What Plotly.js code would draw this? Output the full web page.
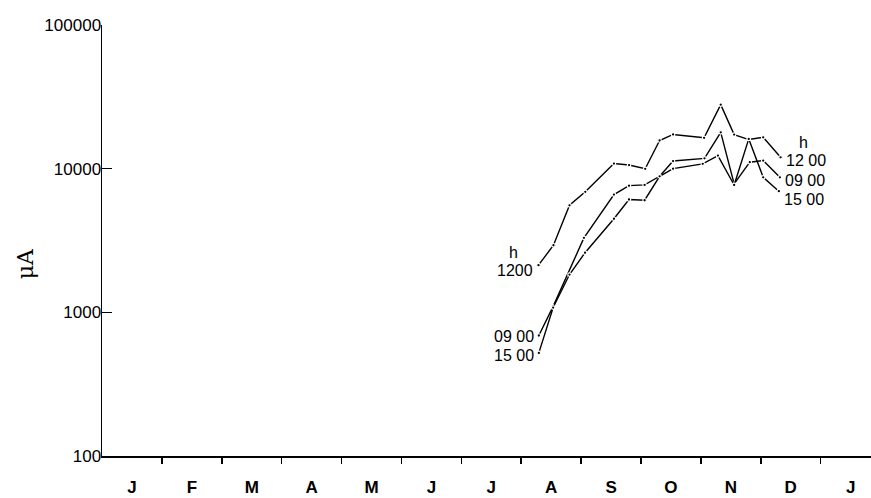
<!DOCTYPE html>
<html>
<head>
<meta charset="utf-8">
<script src="https://cdn.plot.ly/plotly-3.0.1.min.js"></script>
<style>html,body{margin:0;padding:0;background:#fff;}#chart{width:871px;height:498px;}</style>
</head>
<body>
<div id="chart"></div>
<script>
// Month labels (Jan .. Jan), x values are in months from 1 January
const monthLabels = ['J','F','M','A','M','J','J','A','S','O','N','D','J'];
const yTickValues = [100, 1000, 10000, 100000];
const yTickLabels = ['100', '1000', '10000', '100000'];

// 12h00 series
const x1200 = [7.288, 7.538, 7.806, 8.07, 8.548, 8.80, 9.07, 9.31, 9.535, 10.053, 10.331, 10.555, 10.80, 11.04, 11.33];
const v1200 = [2130, 2930, 5560, 6900, 10850, 10600, 9980, 15700, 17300, 16400, 27900, 17260, 15950, 16520, 12000];

// 09h00 series
const x0900 = [7.294, 7.533, 8.047, 8.548, 8.799, 9.06, 9.311, 9.535, 10.06, 10.331, 10.555, 10.816, 11.04, 11.318];
const v0900 = [690, 1100, 3300, 6600, 7620, 7710, 8850, 11300, 11800, 17900, 7830, 11090, 11380, 8700];

// 15h00 series
const x1500 = [7.294, 7.533, 7.806, 8.065, 8.548, 8.799, 9.06, 9.311, 9.535, 10.03, 10.284, 10.555, 10.799, 11.04, 11.301];
const v1500 = [522, 1080, 1832, 2600, 4480, 6100, 6030, 8850, 10000, 10800, 12330, 7700, 16110, 8710, 6970];

const lineStyle = {color: '#000', width: 1.4};
const markerStyle = {color: '#000', size: 3.5, line: {color: '#fff', width: 1.2}};

function series(name, x, y) {
  return {type: 'scatter', mode: 'lines+markers', name: name, x: x, y: y,
          line: lineStyle, marker: markerStyle, showlegend: false, hoverinfo: 'x+y'};
}

const traces = [
  series('12 00', x1200, v1200),
  series('09 00', x0900, v0900),
  series('15 00', x1500, v1500)
];

const labelFont = {family: 'Liberation Sans, Arial, sans-serif', size: 16, color: '#000'};
const first = a => a[0];
const last = a => a[a.length - 1];
const lg = v => Math.log10(v);

function lbl(x, v, text, xanchor, xshift, yshift) {
  return {xref: 'x', yref: 'y', x: x, y: lg(v), text: text, showarrow: false,
          xanchor: xanchor, yanchor: 'middle', xshift: xshift, yshift: yshift, font: labelFont};
}

const annotations = [
  // left (start) labels
  lbl(first(x1200), first(v1200), 'h', 'center', -25, 13),
  lbl(first(x1200), first(v1200), '1200', 'right', -3, -5),
  lbl(first(x0900), first(v0900), '09 00', 'right', -3, -1),
  lbl(first(x1500), first(v1500), '15 00', 'right', -3, -3),
  // right (end) labels
  lbl(last(x1200), last(v1200), 'h', 'center', 23, 15),
  lbl(last(x1200), last(v1200), '12 00', 'left', 3, -3),
  lbl(last(x0900), last(v0900), '09 00', 'left', 3, -3),
  lbl(last(x1500), last(v1500), '15 00', 'left', 3, -8),
  // y axis title
  {xref: 'paper', yref: 'paper', x: -0.1, y: 0.445, text: 'μA', showarrow: false, textangle: -90,
   xanchor: 'center', yanchor: 'middle',
   font: {family: 'DejaVu Serif, Liberation Serif, serif', size: 22, color: '#000'}}
];

const layout = {
  width: 871, height: 498,
  margin: {l: 102, r: 0, t: 25, b: 42},
  paper_bgcolor: '#fff', plot_bgcolor: '#fff',
  showlegend: false,
  xaxis: {
    range: [0, 12.84], showgrid: false, zeroline: false,
    showline: true, linecolor: '#000', linewidth: 1.5,
    tickmode: 'array', tickvals: monthLabels.map((m, i) => i + 0.5), ticktext: monthLabels,
    ticks: '', ticklabelstandoff: 15,
    tickfont: {family: 'Liberation Sans, Arial, sans-serif', size: 17, color: '#000', weight: 'bold'},
    minor: {tickmode: 'array', tickvals: [1,2,3,4,5,6,7,8,9,10,11,12], ticks: 'outside',
            ticklen: 6, tickwidth: 1.5, tickcolor: '#000', showgrid: false}
  },
  yaxis: {
    type: 'log', range: [2, 5], showgrid: false, zeroline: false,
    showline: true, linecolor: '#000', linewidth: 1.5,
    tickmode: 'array', tickvals: yTickValues, ticktext: yTickLabels,
    ticks: 'inside', ticklen: 10, tickwidth: 1.5, tickcolor: '#000',
    ticklabelstandoff: -4,
    tickfont: {family: 'Liberation Sans, Arial, sans-serif', size: 17, color: '#000'}
  },
  annotations: annotations
};

Plotly.newPlot('chart', traces, layout, {displayModeBar: false, staticPlot: true});
</script>
</body>
</html>
